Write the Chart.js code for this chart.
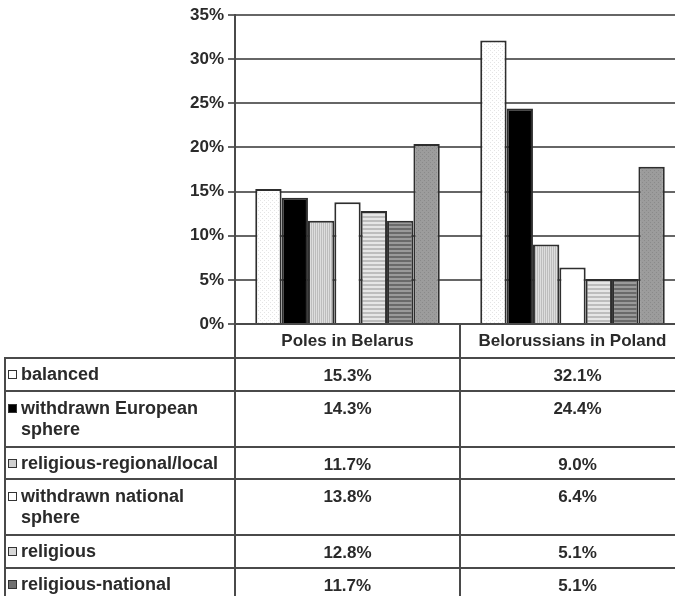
<!DOCTYPE html>
<html>
<head>
<meta charset="utf-8">
<script src="https://cdn.jsdelivr.net/npm/chart.js@4"></script>
<style>
  html, body { margin: 0; padding: 0; background: #fff; overflow: hidden; }
  body { width: 675px; height: 596px; position: relative; font-family: "Liberation Sans", Arial, sans-serif; }
  #chart { position: absolute; left: 0; top: 0; }
  #values { position: absolute; left: 4px; top: 357px; border-collapse: collapse; table-layout: fixed; width: 690px; }
  #values td { border: 2px solid #4a4a4a; padding: 0; font-weight: bold; color: #2a2a2a; vertical-align: middle; overflow: hidden; }
  #values td.name { font-size: 18px; line-height: 21px; padding-left: 15px; text-indent: -13px; }
  #values td.num { font-size: 17px; text-align: center; vertical-align: top; padding-top: 7px; }
  .mark { display: inline-block; width: 7px; height: 7px; border: 1px solid #333; margin: 0 4px 1px 0; vertical-align: middle; text-indent: 0; }
</style>
</head>
<body>
<canvas id="chart" width="685" height="358"></canvas>
<table id="values"><colgroup><col style="width:230px"><col style="width:225px"><col style="width:235px"></colgroup><tbody></tbody></table>
<script>
const categories = ['Poles in Belarus', 'Belorussians in Poland'];
const seriesNames = ['balanced', 'withdrawn European sphere', 'religious-regional/local',
    'withdrawn national sphere', 'religious', 'religious-national', 'other'];

const balanced = [15.3, 32.1];
const withdrawnEuropean = [14.3, 24.4];
const religiousRegional = [11.7, 9.0];
const withdrawnNational = [13.8, 6.4];
const religious = [12.8, 5.1];
const religiousNational = [11.7, 5.1];
const other = [20.4, 17.8];

const yTicks = [0, 5, 10, 15, 20, 25, 30, 35];

const seriesValues = [balanced, withdrawnEuropean, religiousRegional, withdrawnNational,
    religious, religiousNational, other];

// only the first six rows fit under the chart
const tableRows = 6;
const rowHeights = [33, 56, 32, 56, 33, 33];

// fill textures for the bars
function tile(bg, fg, draw) {
    const c = document.createElement('canvas');
    c.width = 4; c.height = 4;
    const g = c.getContext('2d');
    g.fillStyle = bg;
    g.fillRect(0, 0, 4, 4);
    g.fillStyle = fg;
    draw(g);
    return g.createPattern(c, 'repeat');
}
const dots = g => { g.fillRect(0, 0, 1, 1); g.fillRect(2, 2, 1, 1); };
const vlines = g => { g.fillRect(0, 0, 1, 4); g.fillRect(2, 0, 1, 4); };
const hlines = g => { g.fillRect(0, 0, 4, 2); };

const fills = [
    tile('#ffffff', '#e4e4e4', dots),
    '#000000',
    tile('#bdbdbd', '#dedede', vlines),
    '#ffffff',
    tile('#e6e6e6', '#bdbdbd', hlines),
    tile('#9a9a9a', '#6a6a6a', hlines),
    tile('#9c9c9c', '#8a8a8a', dots)
];
const markColors = ['#ffffff', '#000000', '#d0d0d0', '#ffffff', '#d8d8d8', '#707070'];

const font = {family: '"Liberation Sans", Arial, sans-serif', size: 17, weight: 'bold'};

const config = {
    type: 'bar',
    data: {
        labels: categories,
        datasets: seriesValues.map((vals, i) => ({
            label: seriesNames[i],
            data: vals,
            backgroundColor: fills[i],
            borderColor: '#2e2e2e',
            borderWidth: 2,
            categoryPercentage: 0.82,
            barPercentage: 1.0
        }))
    },
    options: {
        responsive: false,
        animation: false,
        layout: {padding: {top: 15, left: 0, right: 0, bottom: 0}},
        plugins: {
            legend: {display: false},
            tooltip: {enabled: false}
        },
        scales: {
            x: {
                grid: {
                    offset: true,
                    drawOnChartArea: false,
                    drawTicks: true,
                    tickLength: 34,
                    color: '#4a4a4a',
                    lineWidth: 2
                },
                border: {color: '#4a4a4a', width: 2},
                ticks: {font: font, color: '#2a2a2a', padding: -27, maxRotation: 0},
                afterFit: s => { s.height = 34; }
            },
            y: {
                min: yTicks[0],
                max: yTicks[yTicks.length - 1],
                afterBuildTicks: s => { s.ticks = yTicks.map(v => ({value: v})); },
                ticks: {
                    font: font,
                    color: '#2a2a2a',
                    padding: 4,
                    callback: v => v + '%'
                },
                grid: {color: '#666666', lineWidth: 2, tickLength: 7},
                border: {color: '#4a4a4a', width: 2},
                afterFit: s => { s.width = 235; }
            }
        }
    }
};

var ctx = document.getElementById('chart').getContext('2d');
window.typesChart = new Chart(ctx, config);

// value table with the series names
function buildTable() {
    const body = document.querySelector('#values tbody');
    for (let i = 0; i < tableRows; i++) {
        const tr = document.createElement('tr');
        tr.style.height = rowHeights[i] + 'px';
        const cell = document.createElement('td');
        cell.className = 'name';
        const mark = document.createElement('span');
        mark.className = 'mark';
        mark.style.background = markColors[i];
        cell.appendChild(mark);
        cell.appendChild(document.createTextNode(seriesNames[i]));
        tr.appendChild(cell);
        seriesValues[i].forEach(v => {
            const td = document.createElement('td');
            td.className = 'num';
            td.textContent = v.toFixed(1) + '%';
            tr.appendChild(td);
        });
        body.appendChild(tr);
    }
}
buildTable();
</script>
</body>
</html>
